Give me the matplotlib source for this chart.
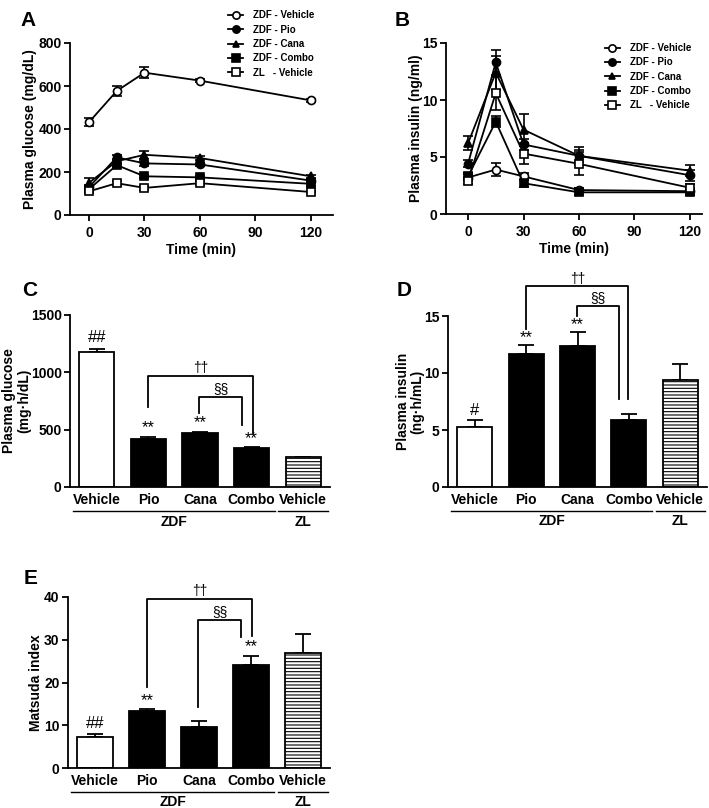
import numpy as np
import matplotlib
matplotlib.use("Agg")
import matplotlib.pyplot as plt

plt.rcParams["font.family"] = ["Liberation Sans", "DejaVu Sans"]
plt.rcParams["font.weight"] = "bold"
plt.rcParams["axes.labelweight"] = "bold"
plt.rcParams["hatch.linewidth"] = 0.8

# ---- data: OGTT time courses ----
time = [0, 15, 30, 60, 120]
groups = ["ZDF - Vehicle", "ZDF - Pio", "ZDF - Cana", "ZDF - Combo", "ZL   - Vehicle"]

glu_mean = {
    "ZDF - Vehicle": [432, 577, 662, 625, 533],
    "ZDF - Pio": [130, 268, 240, 235, 160],
    "ZDF - Cana": [150, 250, 280, 265, 180],
    "ZDF - Combo": [120, 232, 180, 175, 145],
    "ZL   - Vehicle": [110, 148, 126, 148, 107],
}
glu_err = {
    "ZDF - Vehicle": [20, 25, 25, 8, 8],
    "ZDF - Pio": [10, 10, 10, 8, 8],
    "ZDF - Cana": [20, 12, 20, 10, 8],
    "ZDF - Combo": [10, 10, 8, 8, 8],
    "ZL   - Vehicle": [8, 8, 8, 8, 6],
}
ins_mean = {
    "ZDF - Vehicle": [3.2, 3.9, 3.3, 2.1, 2.0],
    "ZDF - Pio": [4.4, 13.3, 6.1, 5.1, 3.4],
    "ZDF - Cana": [6.2, 12.4, 7.4, 5.1, 3.8],
    "ZDF - Combo": [3.3, 8.1, 2.7, 1.9, 1.9],
    "ZL   - Vehicle": [2.9, 10.6, 5.3, 4.4, 2.3],
}
ins_err = {
    "ZDF - Vehicle": [0.3, 0.6, 0.3, 0.2, 0.2],
    "ZDF - Pio": [0.3, 1.1, 0.5, 0.5, 0.5],
    "ZDF - Cana": [0.6, 1.5, 1.4, 0.8, 0.5],
    "ZDF - Combo": [0.3, 0.5, 0.3, 0.2, 0.2],
    "ZL   - Vehicle": [0.3, 1.5, 0.9, 1.0, 0.3],
}
styles = {
    "ZDF - Vehicle": ("o", "white"),
    "ZDF - Pio": ("o", "black"),
    "ZDF - Cana": ("^", "black"),
    "ZDF - Combo": ("s", "black"),
    "ZL   - Vehicle": ("s", "white"),
}

# ---- data: AUC / index bars ----
bar_labels = ["Vehicle", "Pio", "Cana", "Combo", "Vehicle"]
auc_glu = [1177, 420, 470, 340, 258]
auc_glu_err = [25, 12, 12, 12, 5]
auc_ins = [5.3, 11.7, 12.4, 5.9, 9.4]
auc_ins_err = [0.6, 0.8, 1.2, 0.5, 1.4]
matsuda = [7.2, 13.3, 9.6, 24.1, 26.9]
matsuda_err = [0.7, 0.5, 1.4, 2.1, 4.4]

W, H = 709, 808
fig = plt.figure(figsize=(W / 100, H / 100), dpi=100)


def axes_px(l, r, t, b):
    return fig.add_axes([l / W, 1 - b / H, (r - l) / W, (b - t) / H])


def style_ax(ax):
    for s in ("top", "right"):
        ax.spines[s].set_visible(False)
    for s in ("left", "bottom"):
        ax.spines[s].set_linewidth(1.3)
    ax.tick_params(width=1.3, length=4, labelsize=10, pad=2)
    for lab in ax.get_xticklabels() + ax.get_yticklabels():
        lab.set_fontweight("bold")


def time_panel(ax, means, errs, ylim, yticks, ylabel, leg_anchor, lab_x):
    for g in groups:
        m, fc = styles[g]
        ms = 5.2 if m == "^" else 5.8
        ax.errorbar(time, means[g], yerr=errs[g], color="black", lw=1.3,
                    marker=m, mfc=fc, mec="black", mew=1.2, ms=ms,
                    capsize=3.5, capthick=1.2, elinewidth=1.2, label=g,
                    clip_on=False)
    ax.set_ylim(*ylim)
    ax.set_yticks(yticks)
    ax.set_xticks([0, 30, 60, 90, 120])
    ax.set_xlabel("Time (min)", fontsize=10, labelpad=2)
    ax.set_ylabel(ylabel, fontsize=10)
    ax.yaxis.set_label_coords(lab_x, 0.5)
    style_ax(ax)
    ax.tick_params(axis="x", pad=4)
    h, l = ax.get_legend_handles_labels()
    h = [x[0] for x in h]
    ax.legend(h, l, loc="upper left", bbox_to_anchor=leg_anchor, frameon=False,
              prop={"size": 7, "weight": "bold"}, borderpad=0, borderaxespad=0,
              handlelength=1.6, handletextpad=1.0, labelspacing=0.45,
              markerscale=0.9)


def bar_panel(ax, vals, errs, ylim, yticks, ylabel, lab_x):
    x = np.arange(len(vals))
    colors = ["white", "black", "black", "black", "white"]
    bars = ax.bar(x, vals, width=0.68, color=colors, edgecolor="black", lw=1.3,
                  zorder=2)
    bars[-1].set_hatch("-----")
    ax.errorbar(x, vals, yerr=[np.zeros(len(vals)), errs], fmt="none",
                ecolor="black", elinewidth=1.3, capsize=5.5, capthick=1.3,
                zorder=1)
    ax.set_ylim(*ylim)
    ax.set_yticks(yticks)
    ax.set_xlim(-0.52, 4.52)
    ax.set_xticks(x)
    ax.set_xticklabels(bar_labels)
    ax.set_ylabel(ylabel, fontsize=10, linespacing=1.05)
    ax.yaxis.set_label_coords(lab_x, 0.5)
    style_ax(ax)
    ax.tick_params(axis="x", length=0, pad=4)
    tr = ax.get_xaxis_transform()
    ax.plot([-0.46, 3.45], [-0.14, -0.14], color="black", lw=1, transform=tr,
            clip_on=False)
    ax.plot([3.52, 4.48], [-0.14, -0.14], color="black", lw=1, transform=tr,
            clip_on=False)
    ax.text(1.5, -0.16, "ZDF", transform=tr, ha="center", va="top", fontsize=10)
    ax.text(4.0, -0.16, "ZL", transform=tr, ha="center", va="top", fontsize=10)


def bracket(ax, x1, y1, x2, y2, ytop, label, dy):
    ax.plot([x1, x1, x2, x2], [y1, ytop, ytop, y2], color="black", lw=1.3,
            clip_on=False)
    ax.text((x1 + x2) / 2, ytop + dy, label, ha="center", va="bottom",
            fontsize=10, fontweight="normal")


def mark(ax, x, y, s):
    ax.text(x, y, s, ha="center", va="center", fontsize=12, fontweight="normal")


# A
axA = axes_px(70, 333, 43, 215)
time_panel(axA, glu_mean, glu_err, (0, 800), [0, 200, 400, 600, 800],
           "Plasma glucose (mg/dL)", (0.60, 1.19), -0.125)
axA.set_xlim(-10.3, 132)

# B
axB = axes_px(446, 702, 43, 214)
time_panel(axB, ins_mean, ins_err, (0, 15), [0, 5, 10, 15],
           "Plasma insulin (ng/ml)", (0.62, 1.0), -0.09)
axB.set_xlim(-11.9, 126.5)

# C
axC = axes_px(70, 330, 315, 487)
bar_panel(axC, auc_glu, auc_glu_err, (0, 1500), [0, 500, 1000, 1500],
          "Plasma glucose\n(mg\u00b7h/dL)", -0.15)
bracket(axC, 1.0, 700, 3.02, 470, 968, "\u2020\u2020", 5)
bracket(axC, 1.99, 645, 2.81, 540, 785, "\u00a7\u00a7", 5)
mark(axC, 0, 1300, "##")
mark(axC, 1, 515, "**")
mark(axC, 2, 560, "**")
mark(axC, 3, 420, "**")

# D
axD = axes_px(448, 707, 316, 487)
bar_panel(axD, auc_ins, auc_ins_err, (0, 15), [0, 5, 10, 15],
          "Plasma insulin\n(ng\u00b7h/mL)", -0.09)
bracket(axD, 1.0, 13.9, 2.99, 7.75, 17.6, "\u2020\u2020", 0.05)
bracket(axD, 1.99, 15.0, 2.8, 7.75, 15.9, "\u00a7\u00a7", 0.05)
mark(axD, 0, 6.7, "#")
mark(axD, 1, 13.1, "**")
mark(axD, 2, 14.2, "**")

# E
axE = axes_px(68, 330, 597, 768)
bar_panel(axE, matsuda, matsuda_err, (0, 40), [0, 10, 20, 30, 40],
          "Matsuda index", -0.095)
bracket(axE, 1.0, 18.9, 3.02, 30.8, 39.5, "\u2020\u2020", 0.2)
bracket(axE, 1.99, 14.3, 2.81, 30.6, 34.6, "\u00a7\u00a7", 0.2)
mark(axE, 0, 10.5, "##")
mark(axE, 1, 15.8, "**")
mark(axE, 3, 28.4, "**")

# panel letters
for lab, x, y in [("A", 20, 20), ("B", 395, 20), ("C", 22, 290),
                  ("D", 397, 290), ("E", 24, 578)]:
    fig.text(x / W, 1 - y / H, lab, fontsize=15, fontweight="bold",
             ha="left", va="center")

fig.savefig("out.png", dpi=100)
